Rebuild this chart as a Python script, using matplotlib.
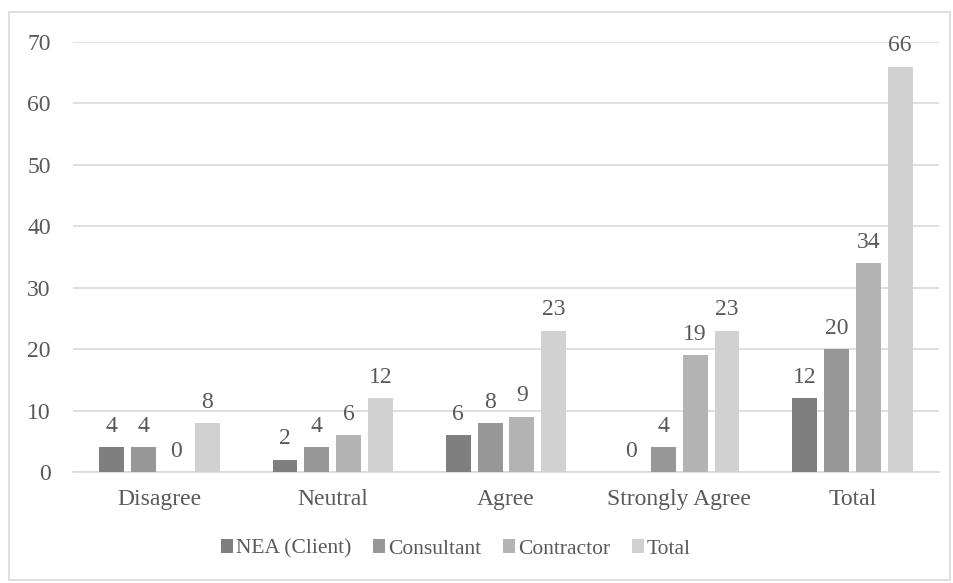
import matplotlib
matplotlib.use("Agg")
import matplotlib.pyplot as plt
import numpy as np
from matplotlib.patches import Rectangle

categories = ["Disagree", "Neutral", "Agree", "Strongly Agree", "Total"]
series_names = ["NEA (Client)", "Consultant", "Contractor", "Total"]
nea = [4, 2, 6, 0, 12]
consultant = [4, 4, 8, 4, 20]
contractor = [0, 6, 9, 19, 34]
total = [8, 12, 23, 23, 66]
y_ticks = [0, 10, 20, 30, 40, 50, 60, 70]

series = [nea, consultant, contractor, total]
colors = ["#7f7f7f", "#979797", "#b3b3b3", "#d1d1d1"]
text_color = "#595959"
grid_color = "#d9d9d9"
fs = 17
legend_fs = 15.5

plt.rcParams["font.family"] = ["Liberation Serif", "DejaVu Serif"]

fig = plt.figure(figsize=(9.54, 5.83), dpi=100)
ax = fig.add_axes([73 / 954, 1 - 472 / 583, (939 - 73) / 954, (472 - 42) / 583])

x = np.arange(len(categories))
width = 0.144
pitch = 0.184
offsets = (np.arange(len(series)) - 1.5) * pitch

for vals, off, col, name in zip(series, offsets, colors, series_names):
    bars = ax.bar(x + off, vals, width=width, color=col, label=name, zorder=3)
    for b, v in zip(bars, vals):
        ax.annotate(str(v), (b.get_x() + b.get_width() / 2, v),
                    xytext=(0, 11), textcoords="offset points",
                    ha="center", va="baseline", fontsize=fs, color=text_color)

ax.set_xlim(-0.5, len(categories) - 0.5)
ax.set_ylim(0, 70)
ax.set_yticks(y_ticks)
ax.set_xticks(x)
ax.set_xticklabels(categories)
ax.tick_params(axis="both", length=0, labelsize=fs, colors=text_color)
ax.tick_params(axis="x", pad=12)
ax.tick_params(axis="y", pad=16)
ax.yaxis.grid(True, color=grid_color, linewidth=1.2, zorder=0)
for side in ["top", "right", "left"]:
    ax.spines[side].set_visible(False)
ax.spines["bottom"].set_color(grid_color)
ax.spines["bottom"].set_linewidth(1.2)

leg = fig.legend(loc="center", bbox_to_anchor=(456 / 954, 1 - 549 / 583), ncol=4,
                 frameon=False, fontsize=legend_fs, handlelength=0.56, handleheight=0.56,
                 handletextpad=0.14, columnspacing=1.0)
for t in leg.get_texts():
    t.set_color(text_color)

fig.patches.append(Rectangle((9 / 954, 1 - 580 / 583), (950 - 9) / 954, (580 - 12) / 583,
                             transform=fig.transFigure, fill=False,
                             edgecolor="#d9d9d9", linewidth=1.2))

fig.savefig("out.png", dpi=100)
